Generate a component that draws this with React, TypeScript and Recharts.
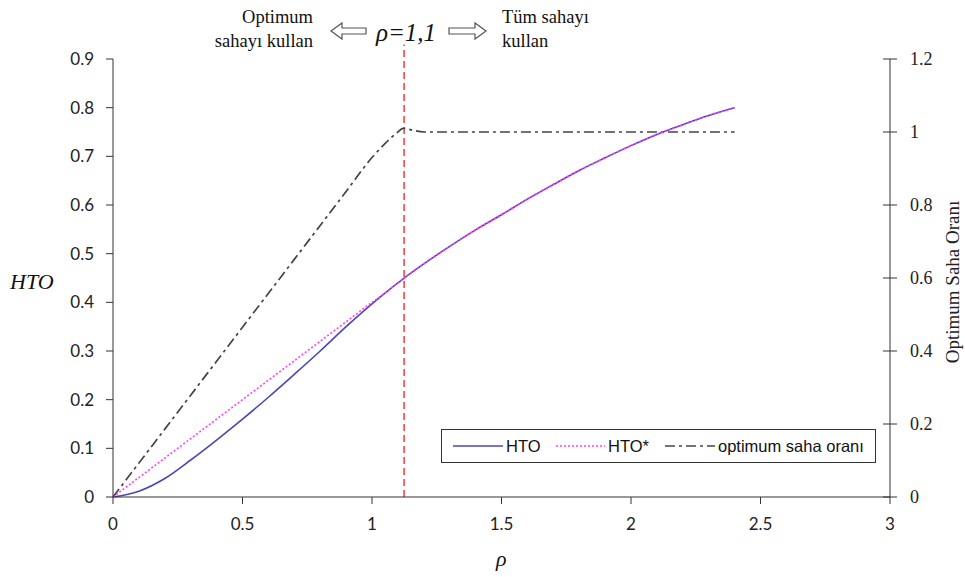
import React from "react";
import { ComposedChart, Line, XAxis, YAxis, ReferenceLine } from "recharts";

// ρ values (x) and series
const rho = [
  0, 0.1, 0.2, 0.3, 0.4, 0.5, 0.6, 0.7, 0.8, 0.9, 1.0, 1.05, 1.1, 1.12, 1.15,
  1.2, 1.3, 1.4, 1.5, 1.6, 1.7, 1.8, 1.9, 2.0, 2.1, 2.2, 2.3, 2.4,
];
const hto = [
  0, 0.012, 0.038, 0.076, 0.117, 0.16, 0.205, 0.252, 0.3, 0.35, 0.397, 0.419,
  0.44, 0.448, 0.46, 0.479, 0.515, 0.549, 0.58, 0.612, 0.642, 0.671, 0.697,
  0.722, 0.745, 0.765, 0.784, 0.8,
];
const htoStar = [
  0, 0.04, 0.08, 0.12, 0.16, 0.2, 0.24, 0.28, 0.32, 0.36, 0.4, 0.419, 0.44,
  0.448, 0.46, 0.479, 0.515, 0.549, 0.58, 0.612, 0.642, 0.671, 0.697, 0.722,
  0.745, 0.765, 0.784, 0.8,
];
const optimumOran = [
  0, 0.093, 0.186, 0.279, 0.372, 0.465, 0.558, 0.651, 0.744, 0.837, 0.93,
  0.968, 1.0, 1.01, 1.006, 1.0, 1.0, 1.0, 1.0, 1.0, 1.0, 1.0, 1.0, 1.0, 1.0,
  1.0, 1.0, 1.0,
];

const xTicks = [0, 0.5, 1, 1.5, 2, 2.5, 3];
const leftTicks = [0, 0.1, 0.2, 0.3, 0.4, 0.5, 0.6, 0.7, 0.8, 0.9];
const rightTicks = [0, 0.2, 0.4, 0.6, 0.8, 1, 1.2];
const splitRho = 1.124;

const data = rho.map((r, i) => ({
  rho: r,
  hto: hto[i],
  htoStar: htoStar[i],
  oran: optimumOran[i],
}));

const serif = "Liberation Serif";
const sans = "Liberation Sans";
const calibri = "Lato";
const axisColor = "#333";
const tickStyle = { fontSize: 17, fontFamily: calibri, fill: "#222" };

const RightTick = (props: any) => {
  const { x, y, payload } = props;
  return (
    <g>
      <line x1={x - 7} x2={x + 7} y1={y} y2={y} stroke={axisColor} />
      <text
        x={x + 20}
        y={y}
        dy="0.35em"
        style={{ fontSize: 18, fontFamily: serif }}
        fill="#222"
      >
        {payload.value}
      </text>
    </g>
  );
};

const legendItem = (left: number): React.CSSProperties => ({
  position: "absolute",
  left,
  top: 6,
  lineHeight: "20px",
});

const LegendBox = () => (
  <div
    style={{
      position: "absolute",
      left: 441,
      top: 429,
      width: 435,
      height: 34,
      border: "1.5px solid #333",
      background: "#fff",
      fontFamily: sans,
      fontSize: 16.5,
      color: "#111",
      boxSizing: "border-box",
    }}
  >
    <svg
      width={435}
      height={34}
      style={{ position: "absolute", left: -1.5, top: -1.5 }}
    >
      <line x1={12} x2={62} y1={17} y2={17} stroke="#4a46b8" strokeWidth={1.5} />
      <line
        x1={115}
        x2={164}
        y1={17}
        y2={17}
        stroke="#ff3cff"
        strokeWidth={1.5}
        strokeDasharray="2 2"
      />
      <line
        x1={224}
        x2={274}
        y1={17}
        y2={17}
        stroke="#444"
        strokeWidth={1.5}
        strokeDasharray="10 4 3 4"
      />
    </svg>
    <span style={legendItem(64)}>HTO</span>
    <span style={legendItem(166)}>HTO*</span>
    <span style={legendItem(276)}>optimum saha oranı</span>
  </div>
);

const Annotations = () => (
  <svg
    width={965}
    height={577}
    style={{
      position: "absolute",
      left: 0,
      top: 0,
      pointerEvents: "none",
      fontFamily: serif,
    }}
  >
    <g fontSize={18.5} fill="#111">
      <text x={313} y={23} textAnchor="end">
        Optimum
      </text>
      <text x={313} y={47} textAnchor="end">
        sahayı kullan
      </text>
      <text x={502} y={23}>
        Tüm sahayı
      </text>
      <text x={502} y={47}>
        kullan
      </text>
      <text x={376} y={41} fontSize={25} fontStyle="italic">
        ρ=1,1
      </text>
      <text x={10} y={289} fontSize={22} fontStyle="italic">
        HTO
      </text>
      <text x={496} y={566} fontSize={22} fontStyle="italic">
        ρ
      </text>
      <text
        x={959}
        y={282}
        fontSize={19}
        textAnchor="middle"
        transform="rotate(-90 959 282)"
        fill="#222"
      >
        Optimum Saha Oranı
      </text>
    </g>
    <g fill="#fff" stroke="#555" strokeWidth={1.2}>
      <path d="M331 31 L342 23 L342 28 L366 28 L366 34 L342 34 L342 39 Z" />
      <path d="M486 31 L475 23 L475 28 L449 28 L449 34 L475 34 L475 39 Z" />
    </g>
  </svg>
);

export default function App() {
  return (
    <div
      style={{
        position: "absolute",
        left: 0,
        top: 0,
        width: 965,
        height: 577,
        background: "#fff",
      }}
    >
      <ComposedChart
        width={965}
        height={577}
        data={data}
        margin={{ top: 59, right: 15, bottom: 40, left: 53 }}
      >
        <XAxis
          dataKey="rho"
          type="number"
          domain={[0, 3]}
          ticks={xTicks}
          height={40}
          tickSize={7}
          tickMargin={14}
          stroke={axisColor}
          tick={tickStyle}
        />
        <YAxis
          yAxisId="left"
          domain={[0, 0.9]}
          ticks={leftTicks}
          width={60}
          tickSize={7}
          tickMargin={12}
          stroke={axisColor}
          tick={tickStyle}
        />
        <YAxis
          yAxisId="right"
          orientation="right"
          domain={[0, 1.2]}
          ticks={rightTicks}
          width={60}
          tickSize={0}
          tickMargin={0}
          tickLine={false}
          stroke={axisColor}
          tick={<RightTick />}
        />
        <ReferenceLine
          yAxisId="left"
          segment={[
            { x: splitRho, y: 0 },
            { x: splitRho, y: 0.93 },
          ]}
          ifOverflow="visible"
          stroke="#f03c3c"
          strokeWidth={1.5}
          strokeDasharray="7 4"
        />
        <Line
          yAxisId="right"
          dataKey="oran"
          type="monotone"
          stroke="#444"
          strokeWidth={1.7}
          strokeDasharray="10 4 3 4"
          dot={false}
          isAnimationActive={false}
        />
        <Line
          yAxisId="left"
          dataKey="hto"
          type="monotone"
          stroke="#4a46b8"
          strokeWidth={1.6}
          dot={false}
          isAnimationActive={false}
        />
        <Line
          yAxisId="left"
          dataKey="htoStar"
          type="monotone"
          stroke="#ff3cff"
          strokeWidth={1.6}
          strokeDasharray="2 2"
          dot={false}
          isAnimationActive={false}
        />
      </ComposedChart>
      <LegendBox />
      <Annotations />
    </div>
  );
}
